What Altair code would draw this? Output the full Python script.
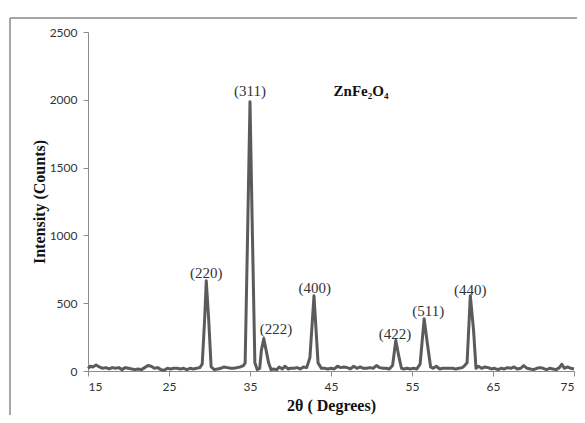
import altair as alt
import pandas as pd

theta = [15.0, 15.3, 15.6, 16.0, 16.4, 16.8, 17.2, 17.6, 18.0, 18.4, 18.8, 19.2, 19.6, 20.0,
         20.4, 20.8, 21.2, 21.6, 22.0, 22.4, 22.8, 23.2, 23.6, 24.0, 24.4, 24.8, 25.2, 25.6,
         26.0, 26.4, 26.8, 27.2, 27.6, 28.0, 28.4, 28.8, 29.1, 29.4, 29.6, 29.9, 30.2, 30.6,
         31.0, 31.4, 31.8, 32.2, 32.6, 33.0, 33.4, 33.8, 34.2, 34.4, 34.7, 35.0, 35.3, 35.6,
         35.9, 36.2, 36.4, 36.7, 37.0, 37.3, 37.6, 37.9, 38.3, 38.6, 39.0, 39.3, 39.7, 40.0,
         40.4, 40.8, 41.2, 41.6, 42.0, 42.4, 42.9, 43.4, 43.8, 44.2, 44.6, 45.0, 45.4, 45.8,
         46.2, 46.6, 47.0, 47.4, 47.8, 48.2, 48.6, 49.0, 49.4, 49.8, 50.2, 50.6, 51.0, 51.4,
         51.8, 52.2, 52.6, 53.0, 53.4, 53.7, 54.0, 54.4, 54.8, 55.2, 55.6, 56.0, 56.5, 56.9,
         57.3, 57.6, 58.0, 58.4, 58.8, 59.2, 59.6, 60.0, 60.4, 60.8, 61.2, 61.5, 61.8, 62.2,
         62.6, 62.9, 63.2, 63.6, 64.0, 64.4, 64.8, 65.2, 65.6, 66.0, 66.4, 66.8, 67.2, 67.6,
         68.0, 68.4, 68.8, 69.2, 69.6, 70.0, 70.4, 70.8, 71.2, 71.6, 72.0, 72.4, 72.8, 73.2,
         73.5, 73.8, 74.2, 74.6, 75.0]
counts = [20, 35, 30, 45, 30, 20, 25, 15, 25, 20, 25, 10, 25, 20,
          15, 10, 15, 10, 25, 40, 35, 20, 25, 10, 5, 20, 15, 20,
          20, 15, 20, 10, 20, 15, 20, 25, 50, 380, 665, 380, 30, 10,
          15, 20, 30, 25, 20, 20, 25, 30, 40, 60, 1000, 1985, 1000, 60,
          10, 20, 150, 240, 150, 60, 10, 15, 10, 30, 15, 35, 15, 20,
          20, 25, 15, 30, 25, 100, 555, 60, 20, 20, 15, 20, 15, 35,
          25, 30, 25, 15, 35, 20, 30, 20, 20, 25, 20, 40, 25, 20,
          20, 15, 40, 225, 100, 20, 15, 20, 15, 20, 15, 50, 385, 200,
          30, 20, 35, 15, 20, 20, 20, 20, 15, 20, 25, 40, 60, 555,
          300, 20, 35, 20, 30, 25, 15, 20, 10, 20, 15, 25, 20, 30,
          15, 20, 40, 20, 15, 10, 20, 25, 20, 10, 20, 15, 10, 25,
          50, 20, 30, 20, 15]

label_text = ["(220)", "(311)", "(222)", "(400)", "(422)", "(511)", "(440)"]
label_x = [29.6, 35.0, 38.2, 43.0, 52.9, 57.0, 62.2]
label_y = [724, 2066, 310, 610, 273, 444, 595]

title_text = ["ZnFe₂O₄"]
title_x = [48.7]
title_y = [2066]

x_ticks = [15, 25, 35, 45, 55, 65, 75]
y_ticks = [0, 500, 1000, 1500, 2000, 2500]

df = pd.DataFrame({"theta": theta, "counts": counts})
lab = pd.DataFrame({"t": label_text, "x": label_x, "y": label_y})
tit = pd.DataFrame({"t": title_text, "x": title_x, "y": title_y})

xs = alt.Scale(domain=[15, 75], nice=False, zero=False)
ys = alt.Scale(domain=[0, 2500], nice=False)

line = alt.Chart(df).mark_line(color="#5b5b5b", strokeWidth=3, strokeJoin="round").encode(
    x=alt.X("theta:Q", scale=xs,
            axis=alt.Axis(values=x_ticks, title="2θ ( Degrees)", grid=False, format="d",
                          domainColor="#8c8c8c", tickColor="#8c8c8c", tickSize=5,
                          labelFont="Lato", labelFontSize=12, labelColor="#333333",
                          labelPadding=5,
                          titleFont="Liberation Serif", titleFontSize=16, titleFontWeight="bold",
                          titleColor="#111111", titlePadding=5)),
    y=alt.Y("counts:Q", scale=ys,
            axis=alt.Axis(values=y_ticks, title="Intensity (Counts)", grid=False, format="d",
                          domainColor="#8c8c8c", tickColor="#8c8c8c", tickSize=5,
                          labelFont="Lato", labelFontSize=12, labelColor="#333333",
                          labelPadding=6,
                          titleFont="Liberation Serif", titleFontSize=16, titleFontWeight="bold",
                          titleColor="#111111", titlePadding=2)),
)

labels = alt.Chart(lab).mark_text(font="Liberation Serif", fontSize=15, color="#333333",
                                  baseline="middle").encode(
    x=alt.X("x:Q", scale=xs), y=alt.Y("y:Q", scale=ys), text="t:N")

title = alt.Chart(tit).mark_text(font="Liberation Serif", fontSize=15, fontWeight="bold",
                                 color="#111111", baseline="middle").encode(
    x=alt.X("x:Q", scale=xs), y=alt.Y("y:Q", scale=ys), text="t:N")

frame_top = alt.Chart(tit).mark_rule(color="#8a8a8a", strokeWidth=1.5, clip=False).encode(
    x=alt.value(-78), x2=alt.value(489), y=alt.value(-14), y2=alt.value(-14))
frame_left = alt.Chart(tit).mark_rule(color="#8a8a8a", strokeWidth=1.5, clip=False).encode(
    x=alt.value(-78), x2=alt.value(-78), y=alt.value(-14), y2=alt.value(383))

chart = alt.layer(frame_top, frame_left, line, labels, title).properties(
    width=486, height=339,
    autosize=alt.AutoSizeParams(type="none"),
    padding={"left": 80, "top": 24, "right": 3, "bottom": 44},
).configure_view(stroke=None)

chart.save("out.html", embed_options={"renderer": "svg", "actions": False})
